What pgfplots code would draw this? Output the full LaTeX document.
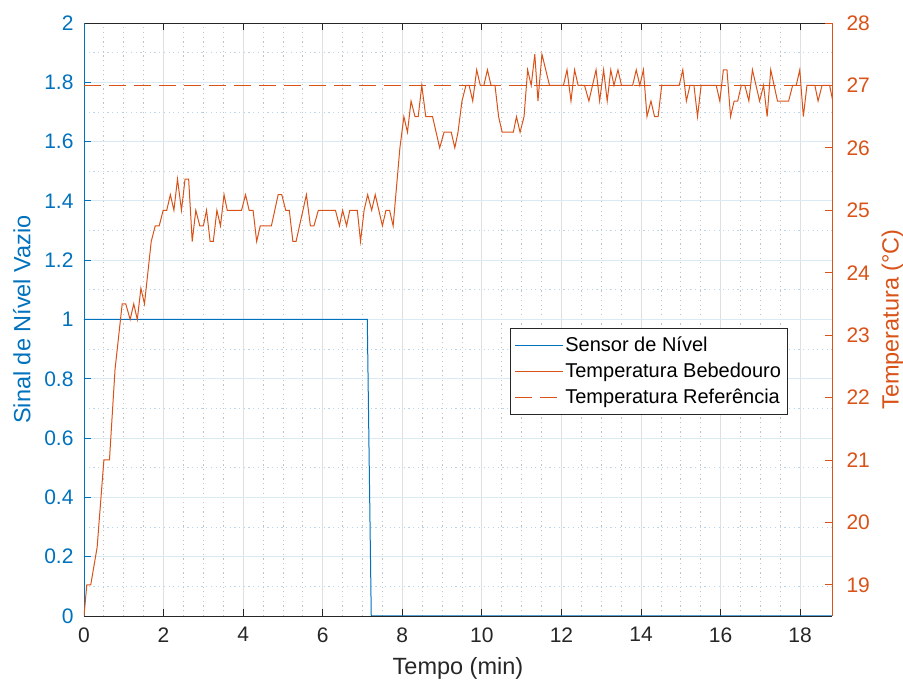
\documentclass[border=0pt]{standalone}
\usepackage{fontspec}
\setmainfont{Liberation Sans}
\usepackage{pgfplots}
\usepackage{pgfplotstable}
\pgfplotsset{compat=1.18}
\definecolor{mblue}{rgb}{0,0.447,0.741}
\definecolor{morange}{rgb}{0.85,0.325,0.098}
\definecolor{mgray}{rgb}{0.15,0.15,0.15}
\definecolor{gridblue}{RGB}{217,234,245}
\definecolor{gridgray}{RGB}{223,223,223}
\definecolor{mgridblue}{RGB}{185,215,236}
\definecolor{mgridgray}{RGB}{195,195,195}

\pgfplotstableread{
x y
0 1
7.12 1
7.22 0
18.8 0
}\sensor

\pgfplotstableread{
x T
0 18.5
0.07 19.0
0.17 19.0
0.33 19.6
0.50 21.0
0.64 21.0
0.78 22.45
0.96 23.5
1.05 23.5
1.16 23.25
1.25 23.5
1.34 23.25
1.43 23.75
1.52 23.5
1.69 24.5
1.79 24.75
1.89 24.75
1.99 25.0
2.08 25.0
2.17 25.25
2.26 25.0
2.35 25.5
2.45 25.0
2.54 25.5
2.63 25.5
2.72 24.5
2.81 25.0
2.91 24.75
3.0 24.75
3.08 25.0
3.17 24.5
3.25 24.5
3.34 25.0
3.43 24.75
3.52 25.25
3.60 25.0
3.96 25.0
4.06 25.25
4.15 25.0
4.25 25.0
4.34 24.5
4.43 24.75
4.71 24.75
4.88 25.25
4.97 25.25
5.07 25.0
5.16 25.0
5.25 24.5
5.33 24.5
5.59 25.25
5.69 24.75
5.78 24.75
5.89 25.0
6.32 25.0
6.42 24.75
6.50 25.0
6.60 24.75
6.68 25.0
6.87 25.0
6.95 24.5
7.04 25.0
7.13 25.25
7.23 25.0
7.32 25.25
7.50 24.75
7.59 25.0
7.68 25.0
7.77 24.75
7.94 26.0
8.04 26.5
8.13 26.25
8.22 26.75
8.32 26.5
8.40 26.5
8.49 27.0
8.59 26.5
8.76 26.5
8.94 26.0
9.05 26.25
9.23 26.25
9.32 26.0
9.40 26.25
9.50 26.75
9.60 27.0
9.68 27.0
9.77 26.75
9.87 27.25
9.96 27.0
10.05 27.0
10.14 27.25
10.23 27.0
10.33 27.0
10.42 26.5
10.51 26.25
10.79 26.25
10.87 26.5
10.96 26.25
11.06 26.5
11.15 27.25
11.24 27.0
11.33 27.5
11.41 26.75
11.51 27.5
11.70 27.0
12.05 27.0
12.14 27.25
12.24 26.75
12.33 27.25
12.42 27.0
12.58 27.0
12.69 26.75
12.87 27.25
12.96 26.75
13.06 27.25
13.15 26.75
13.24 27.25
13.32 27.0
13.42 27.25
13.51 27.0
13.79 27.0
13.88 27.25
13.97 27.0
14.06 27.25
14.15 26.5
14.25 26.75
14.34 26.5
14.43 26.5
14.52 27.0
14.96 27.0
15.05 27.25
15.14 26.75
15.23 27.0
15.33 27.0
15.42 26.5
15.51 27.0
15.89 27.0
15.98 26.75
16.07 27.25
16.16 27.25
16.25 26.5
16.34 26.75
16.43 26.75
16.52 27.0
16.61 27.0
16.71 26.75
16.80 27.25
16.89 27.0
16.98 26.75
17.08 27.0
17.17 26.5
17.26 27.25
17.43 26.75
17.71 26.75
17.81 27.0
17.90 27.0
17.99 27.25
18.08 26.5
18.17 27.0
18.37 27.0
18.45 26.75
18.55 27.0
18.74 27.0
18.82 26.75
}\temp

\begin{document}
\begin{tikzpicture}
\useasboundingbox (-84pt,-66pt) rectangle (819pt,616pt);
\pgfplotsset{
  common/.style={
    at={(0pt,0pt)}, anchor=south west,
    scale only axis, width=748pt, height=593pt,
    xmin=0, xmax=18.8,
    tick align=inside, major tick length=7pt, minor tick length=0pt,
    /pgf/number format/assume math mode=true,
    tick label style={font=\fontsize{21}{25}\selectfont},
  }
}
\begin{axis}[
  common,
  ymin=0, ymax=2,
  axis x line*=box, axis y line*=left,
  x axis line style={-, draw=mgray, line width=0.8pt},
  y axis line style={-, draw=mblue, line width=0.8pt},
  xtick={0,2,4,6,8,10,12,14,16,18},
  ytick={0,0.2,0.4,0.6,0.8,1,1.2,1.4,1.6,1.8,2},
  minor x tick num=3, minor y tick num=1,
  xtick style={draw=mgray, line width=0.8pt},
  ytick style={draw=mblue, line width=0.8pt},
  xticklabel style={text=mgray, yshift=-8pt},
  yticklabel style={text=mblue, xshift=-7pt},
  grid=both,
  major x grid style={draw=gridgray, line width=0.8pt},
  major y grid style={draw=gridblue, line width=0.8pt},
  minor x grid style={draw=mgridgray, line width=0.8pt, dash pattern=on 1.2pt off 3.5pt},
  minor y grid style={draw=mgridblue, line width=0.8pt, dash pattern=on 1.2pt off 3.5pt},
  xlabel={Tempo (min)},
  ylabel={Sinal de Nível Vazio},
  every axis x label/.style={at={(axis description cs:0.5,-0.088)}, anchor=center, text=mgray, font=\fontsize{23.5}{28}\selectfont},
  every axis y label/.style={at={(axis description cs:-0.083,0.5)}, anchor=center, rotate=90, text=mblue, font=\fontsize{23.5}{28}\selectfont},
]
\addplot[mblue, line width=1pt] table[x=x, y=y] {\sensor};
\end{axis}
\begin{axis}[
  common,
  ymin=18.5, ymax=28,
  axis x line=none, axis y line*=right,
  y axis line style={-, draw=morange, line width=0.8pt},
  ytick={19,20,21,22,23,24,25,26,27,28},
  ytick style={draw=morange, line width=0.8pt},
  yticklabel style={text=morange, xshift=11pt},
  ylabel={Temperatura (°C)},
  every axis y label/.style={at={(axis description cs:1.081,0.5)}, anchor=center, rotate=90, text=morange, font=\fontsize{23.5}{28}\selectfont},
  legend style={at={(axis description cs:0.5695,0.486)}, anchor=north west,
    draw=mgray, line width=0.7pt, fill=white, text=black,
    font=\fontsize{20}{24}\selectfont, inner xsep=4pt, inner ysep=7pt,
    cells={anchor=west}, row sep=6pt},
  legend image code/.code={\draw[#1] (2pt,0pt) -- (50pt,0pt);},
  legend cell align=left,
]
\addlegendimage{mblue, line width=1pt}
\addlegendentry{Sensor de Nível}
\addplot[morange, line width=1pt] table[x=x, y=T] {\temp};
\addlegendentry{Temperatura Bebedouro}
\addplot[morange, line width=1pt, dash pattern=on 17pt off 8pt] coordinates {(0,27) (18.8,27)};
\addlegendentry{Temperatura Referência}
\end{axis}
\end{tikzpicture}
\end{document}
